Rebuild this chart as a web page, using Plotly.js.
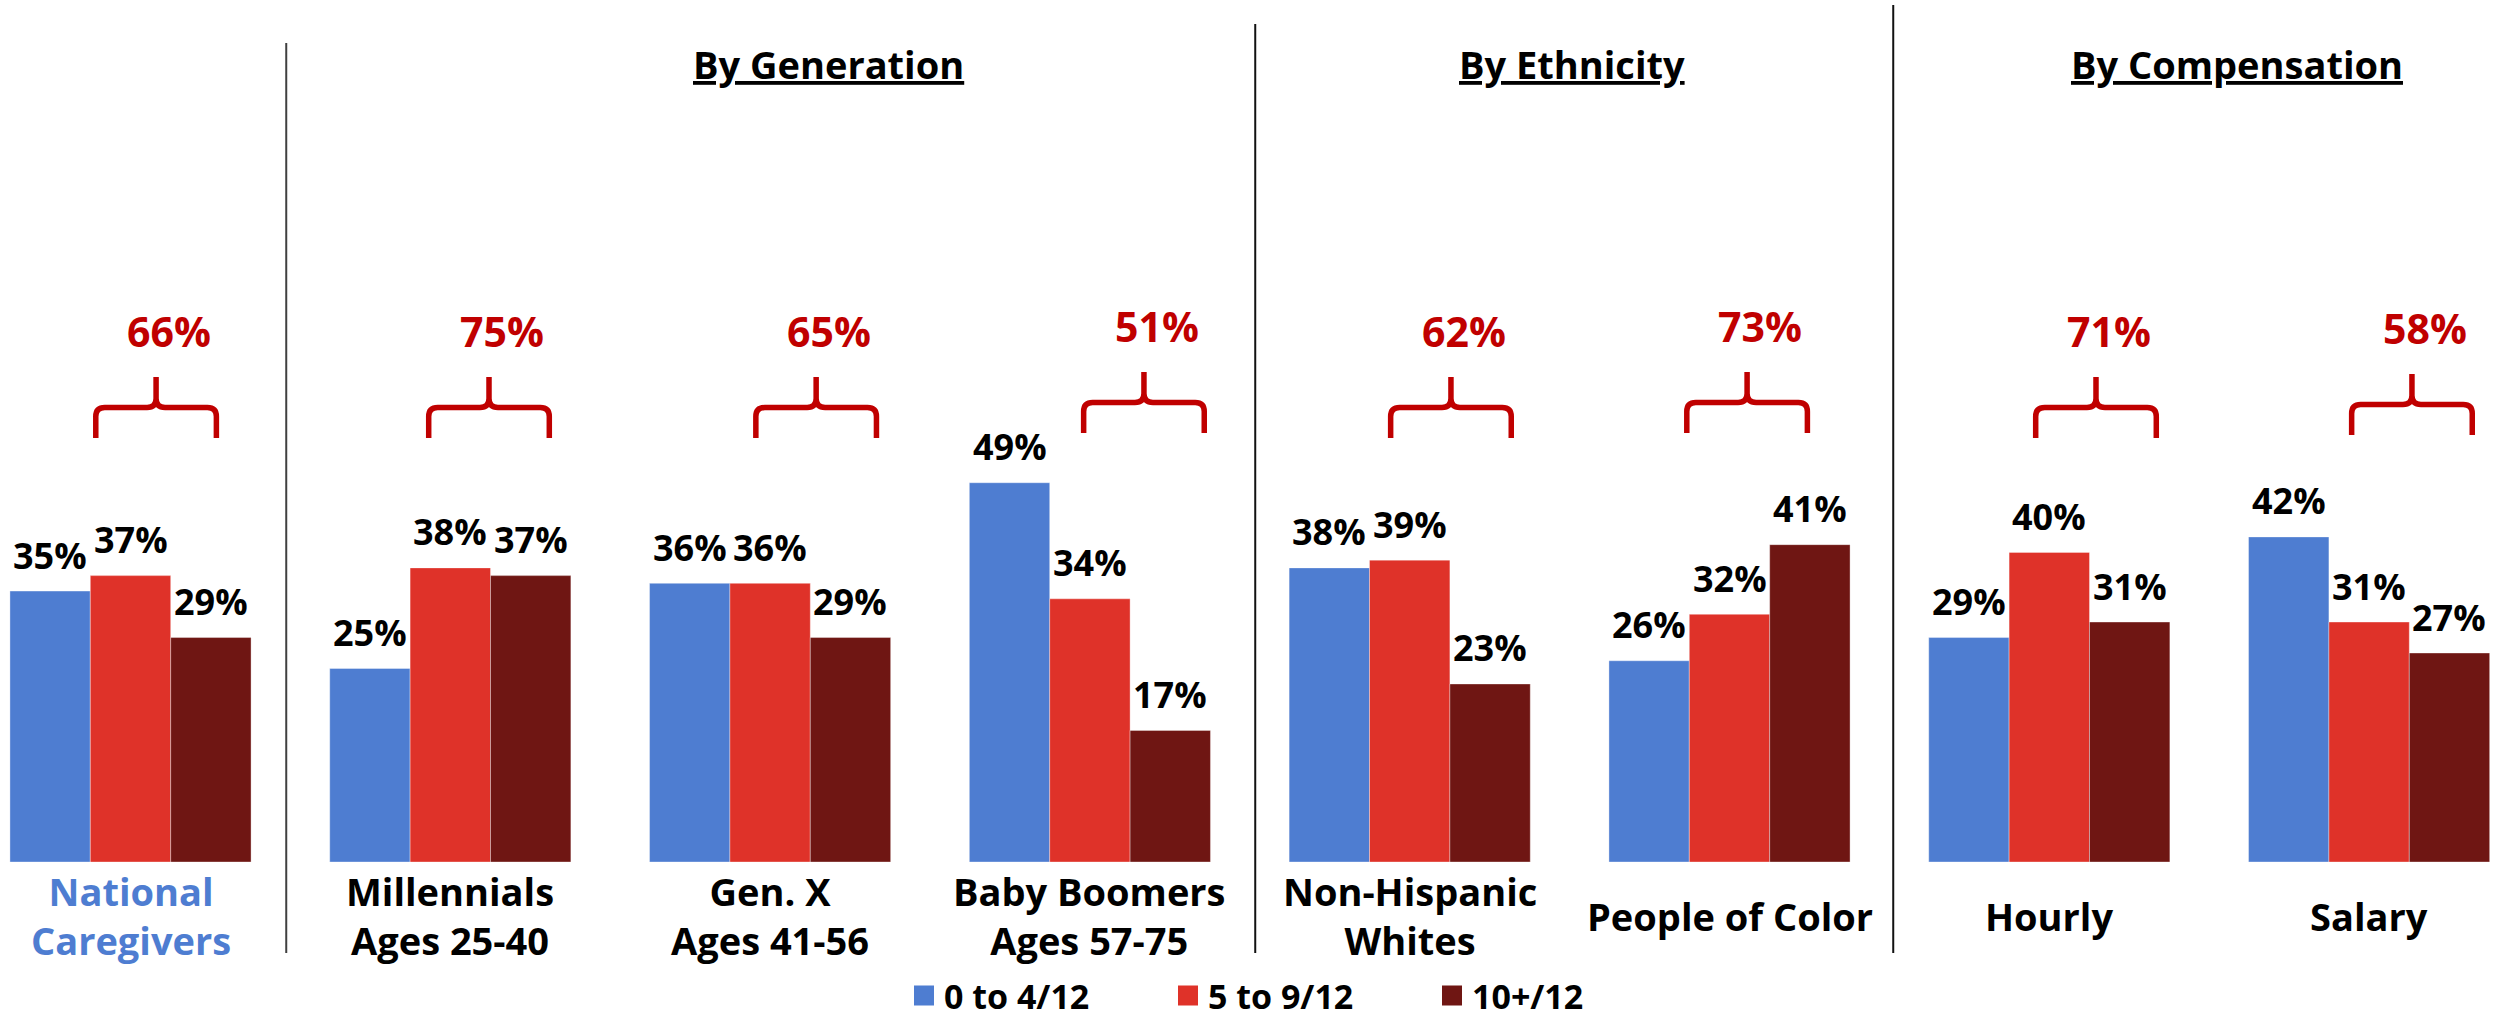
<!DOCTYPE html>
<html><head><meta charset="utf-8">
<script src="https://cdn.plot.ly/plotly-3.0.1.min.js"></script>
<style>html,body{margin:0;padding:0;background:#fff}</style>
</head><body><div id="chart" style="width:2498px;height:1019px"></div>
<script>
// ---------- data ----------
const categories = ['National<br>Caregivers', 'Millennials<br>Ages 25-40', 'Gen. X<br>Ages 41-56',
  'Baby Boomers<br>Ages 57-75', 'Non-Hispanic<br>Whites', 'People of Color', 'Hourly', 'Salary'];
const seriesNames = ['0 to 4/12', '5 to 9/12', '10+/12'];
const low  = [35, 25, 36, 49, 38, 26, 29, 42];
const mid  = [37, 38, 36, 34, 39, 32, 40, 31];
const high = [29, 37, 29, 17, 23, 41, 31, 27];
const combined = [66, 75, 65, 51, 62, 73, 71, 58];
const groupHeaders = ['By Generation', 'By Ethnicity', 'By Compensation'];

// ---------- layout config ----------
const W = 2498, H = 1019, baseY = 862;
const pxPerX = 319.8, pxPerY = 7.74, x0px = 130.5;
const colors = ['#4E7DD1', '#DF3229', '#6F1613'];
const accent = '#C00000';
const font = 'Open Sans, Lato, sans-serif';
const bargap = 0.246;
const braceOffset = [0.080, 0.121, 0.144, 0.169, 0.129, 0.055, 0.146, 0.134];
const braceLiftPx = [0, 0, 0, 5, 0, 5, 0, 3];
const headerX = [2.183, 4.509, 6.587];
const dividerX = [0.487, 3.517, 5.512];
const dividerTopPx = [43, 24, 5];
const dividerBottomPx = 953;

const pY = py => (baseY - py) / baseY;  // pixel row -> paper y
const xIdx = categories.map((c, i) => i);
const series = [low, mid, high];

const traces = series.map((vals, k) => ({
  type: 'bar', name: seriesNames[k], x: xIdx, y: vals, legendgroup: 'g' + k, showlegend: false,
  marker: {color: colors[k], line: {color: 'rgba(255,255,255,0.35)', width: 1}},
  hoverinfo: 'skip'
}));
// legend swatches (larger square keys)
seriesNames.forEach((n, k) => traces.push({
  type: 'scatter', mode: 'markers', name: n, x: [null], y: [null], legendgroup: 'g' + k,
  marker: {symbol: 'square', size: 16, color: colors[k], line: {color: colors[k], width: 4}},
  hoverinfo: 'skip'
}));

const bw = (1 - bargap) / 3;
const annotations = [];
// value labels
series.forEach((vals, k) => vals.forEach((v, i) => {
  annotations.push({x: i + (k - 1) * bw, y: v, xref: 'x', yref: 'y', text: v + '%',
    showarrow: false, yanchor: 'middle', xanchor: 'center', yshift: 36,
    font: {family: font, size: 36, color: '#000', weight: 'bold'}});
}));
// category labels
categories.forEach((c, i) => {
  annotations.push({x: i, y: pY(915.5), xref: 'x', yref: 'paper', text: c, showarrow: false,
    yanchor: 'middle', xanchor: 'center', align: 'center',
    font: {family: font, size: 38, color: i === 0 ? '#4E7DD1' : '#000', weight: 'bold'}});
});
// group headers
groupHeaders.forEach((h, j) => {
  annotations.push({x: headerX[j], y: pY(64.2), xref: 'x', yref: 'paper', text: '<u>' + h + '</u>',
    showarrow: false, yanchor: 'middle', xanchor: 'center',
    font: {family: font, size: 38, color: '#000', weight: 'bold'}});
});

// braces + combined labels
const shapes = [];
const hw = 60.3 / pxPerX, drop = 30.5 / pxPerY, rise = 30.5 / pxPerY;
const rx = 9 / pxPerX, ry = 9 / pxPerY;
combined.forEach((v, i) => {
  const cx = i + braceOffset[i];
  const yh = (baseY - 407.5 + braceLiftPx[i]) / pxPerY;
  const yb = yh - drop, yt = yh + rise;
  const L = cx - hw, R = cx + hw;
  const path = `M${L},${yb} L${L},${yh - ry} Q${L},${yh} ${L + rx},${yh} L${cx - rx},${yh} ` +
    `Q${cx},${yh} ${cx},${yh + ry} L${cx},${yt} M${cx},${yh + ry} Q${cx},${yh} ${cx + rx},${yh} ` +
    `L${R - rx},${yh} Q${R},${yh} ${R},${yh - ry} L${R},${yb}`;
  shapes.push({type: 'path', xref: 'x', yref: 'y', path: path,
    line: {color: accent, width: 5.5}});
  annotations.push({x: cx + 13 / pxPerX, y: yh + 76.5 / pxPerY, xref: 'x', yref: 'y',
    text: v + '%', showarrow: false, yanchor: 'middle', xanchor: 'center',
    font: {family: font, size: 41, color: accent, weight: 'bold'}});
});
// dividers
dividerX.forEach((x, j) => {
  shapes.push({type: 'line', xref: 'x', yref: 'paper', x0: x, x1: x,
    y0: pY(dividerBottomPx), y1: pY(dividerTopPx[j]),
    line: {color: j === 0 ? '#404040' : '#111', width: 2}});
});

const layout = {
  width: W, height: H,
  margin: {l: 0, r: 0, t: 0, b: H - baseY, pad: 0, autoexpand: false},
  paper_bgcolor: '#fff', plot_bgcolor: '#fff',
  barmode: 'group', bargap: bargap, bargroupgap: 0,
  xaxis: {type: 'linear', range: [-x0px / pxPerX, (W - x0px) / pxPerX], showgrid: false,
    zeroline: false, showticklabels: false, showline: false, ticks: '', fixedrange: true},
  yaxis: {range: [0, baseY / pxPerY], visible: false, fixedrange: true},
  showlegend: true,
  legend: {orientation: 'h', x: 904 / W, xanchor: 'left', xref: 'container',
    y: 1 - 996 / H, yanchor: 'middle', yref: 'container',
    font: {family: font, size: 34, color: '#000', weight: 'bold'}, entrywidth: 219,
    bgcolor: 'rgba(0,0,0,0)', traceorder: 'normal'},
  annotations: annotations,
  shapes: shapes
};

Plotly.newPlot('chart', traces, layout, {displayModeBar: false, staticPlot: true});
</script></body></html>
